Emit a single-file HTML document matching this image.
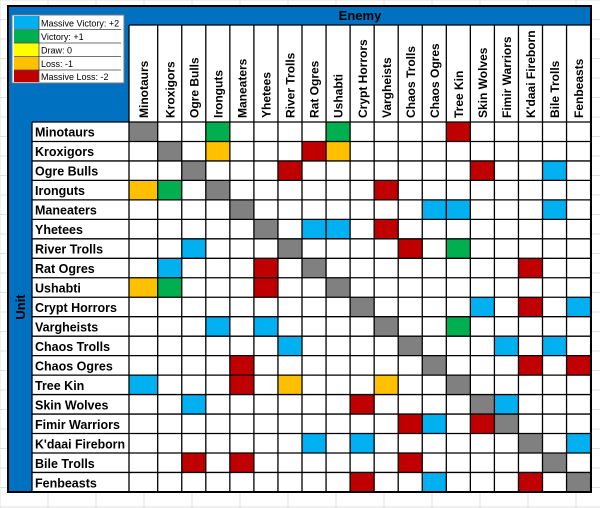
<!DOCTYPE html>
<html><head><meta charset="utf-8"><style>
html,body{margin:0;padding:0;background:#fff;width:600px;height:508px;overflow:hidden}
svg{display:block}
text{font-family:"Liberation Sans",Arial,sans-serif;font-weight:bold;fill:#000}
</style></head><body>
<svg id="s" width="600" height="508" xmlns="http://www.w3.org/2000/svg">
<g id="bg"></g>
<rect x="8" y="6" width="583" height="19" fill="#0070c0"/>
<rect x="8" y="6" width="121" height="116" fill="#0070c0"/>
<rect x="8" y="122" width="24" height="370" fill="#0070c0"/>
<g id="cells"></g>
<g id="lines" stroke="#000" stroke-width="1.3"></g>
<rect x="8" y="6" width="583" height="486" fill="none" stroke="#000" stroke-width="2"/>
<!-- legend -->
<rect x="12" y="15" width="112" height="68" fill="#fff" stroke="#777" stroke-width="1"/>
<rect x="14" y="16" width="25" height="13" fill="#00b0f0"/>
<rect x="14" y="30" width="25" height="13" fill="#00b050"/>
<rect x="14" y="43" width="25" height="13" fill="#ffff00"/>
<rect x="14" y="57" width="25" height="13" fill="#ffc000"/>
<rect x="14" y="70" width="25" height="12" fill="#c00000"/>
<g stroke="#444" stroke-width="0.8">
<line x1="14" y1="29.5" x2="121" y2="29.5"/><line x1="14" y1="43" x2="121" y2="43"/>
<line x1="14" y1="56.5" x2="121" y2="56.5"/><line x1="14" y1="70" x2="121" y2="70"/>
<line x1="39" y1="16" x2="39" y2="82"/>
</g>
<g font-size="9">
<text x="41" y="26.5" style="font-weight:normal">Massive Victory: +2</text>
<text x="41" y="40" style="font-weight:normal">Victory: +1</text>
<text x="41" y="53.5" style="font-weight:normal">Draw: 0</text>
<text x="41" y="67" style="font-weight:normal">Loss: -1</text>
<text x="41" y="80" style="font-weight:normal">Massive Loss: -2</text>
</g>
<text x="360" y="20" font-size="13" text-anchor="middle">Enemy</text>
<text transform="translate(25,307) rotate(-90)" font-size="13" text-anchor="middle">Unit</text>
<g font-size="12" id="hdr">
<text transform="translate(148,118) rotate(-90)">Minotaurs</text>
<text transform="translate(174.5,118) rotate(-90)">Kroxigors</text>
<text transform="translate(198.5,118) rotate(-90)">Ogre Bulls</text>
<text transform="translate(222.5,118) rotate(-90)">Ironguts</text>
<text transform="translate(246.5,118) rotate(-90)">Maneaters</text>
<text transform="translate(270.5,118) rotate(-90)">Yhetees</text>
<text transform="translate(294.5,118) rotate(-90)">River Trolls</text>
<text transform="translate(318.5,118) rotate(-90)">Rat Ogres</text>
<text transform="translate(342.5,118) rotate(-90)">Ushabti</text>
<text transform="translate(367,118) rotate(-90)">Crypt Horrors</text>
<text transform="translate(391,118) rotate(-90)">Vargheists</text>
<text transform="translate(415,118) rotate(-90)">Chaos Trolls</text>
<text transform="translate(439,118) rotate(-90)">Chaos Ogres</text>
<text transform="translate(463,118) rotate(-90)">Tree Kin</text>
<text transform="translate(487,118) rotate(-90)">Skin Wolves</text>
<text transform="translate(511,118) rotate(-90)">Fimir Warriors</text>
<text transform="translate(535,118) rotate(-90)">K'daai Fireborn</text>
<text transform="translate(559,118) rotate(-90)">Bile Trolls</text>
<text transform="translate(583,118) rotate(-90)">Fenbeasts</text>
</g>
<g font-size="12.5">
<text x="35" y="136.5">Minotaurs</text>
<text x="35" y="156">Kroxigors</text>
<text x="35" y="175.5">Ogre Bulls</text>
<text x="35" y="195">Ironguts</text>
<text x="35" y="214.5">Maneaters</text>
<text x="35" y="234">Yhetees</text>
<text x="35" y="253.5">River Trolls</text>
<text x="35" y="273">Rat Ogres</text>
<text x="35" y="292.5">Ushabti</text>
<text x="35" y="312">Crypt Horrors</text>
<text x="35" y="331.5">Vargheists</text>
<text x="35" y="351">Chaos Trolls</text>
<text x="35" y="370.5">Chaos Ogres</text>
<text x="35" y="390">Tree Kin</text>
<text x="35" y="409.5">Skin Wolves</text>
<text x="35" y="429">Fimir Warriors</text>
<text x="35" y="448.5" textLength="90" lengthAdjust="spacingAndGlyphs">K'daai Fireborn</text>
<text x="35" y="468">Bile Trolls</text>
<text x="35" y="487.5">Fenbeasts</text>
</g>
</svg>
<script>
var NS="http://www.w3.org/2000/svg";
function el(p,t,a){var e=document.createElementNS(NS,t);for(var k in a)e.setAttribute(k,a[k]);document.getElementById(p).appendChild(e);}
var cx=[129];for(var i=0;i<=18;i++)cx.push(157.7+24.05*i);
var ry=[];for(var j=0;j<=19;j++)ry.push(122+19.47*j);
for(var y=0;y<508;y+=19.5){el("bg","line",{x1:0,y1:y,x2:600,y2:y,stroke:"#e0e0e0","stroke-width":1});}
for(var x=0;x<600;x+=48){el("bg","line",{x1:x,y1:0,x2:x,y2:508,stroke:"#e0e0e0","stroke-width":1});}
el("bg","rect",{x:8,y:6,width:583,height:486,fill:"#fff"});
var C={b:"#00b0f0",g:"#00b050",y:"#ffff00",o:"#ffc000",r:"#c00000",x:"#808080"};
var D=[
"0x3g8g13r","1x3o7r8o","2x6r14r17b","0o1g3x10r","4x12b13b17b","5x7b8b10r","2b6x11r13g","1b5r7x16r",
"0o1g5r8x","9x14b16r18b","3b5b10x13g","6b11x15b17b","4r12x16r18r","0b4r6o10o13x","2b9r14x15b",
"11r12b14r15x","7b9b16x18b","2r4r11r17x","9r12b16r18x"];
D.forEach(function(s,r){var m=s.match(/\d+[a-z]/g);m.forEach(function(t){var c=parseInt(t.slice(0,-1),10),k=t.slice(-1);
el("cells","rect",{x:cx[c],y:ry[r],width:cx[c+1]-cx[c],height:ry[r+1]-ry[r],fill:C[k]});});});
for(var i=0;i<cx.length;i++)el("lines","line",{x1:cx[i],y1:25,x2:cx[i],y2:492});
el("lines","line",{x1:129,y1:25,x2:591,y2:25});
for(var j=0;j<ry.length;j++)el("lines","line",{x1:32,y1:ry[j],x2:591,y2:ry[j]});
el("lines","line",{x1:32,y1:122,x2:32,y2:492});
</script>
</body></html>
